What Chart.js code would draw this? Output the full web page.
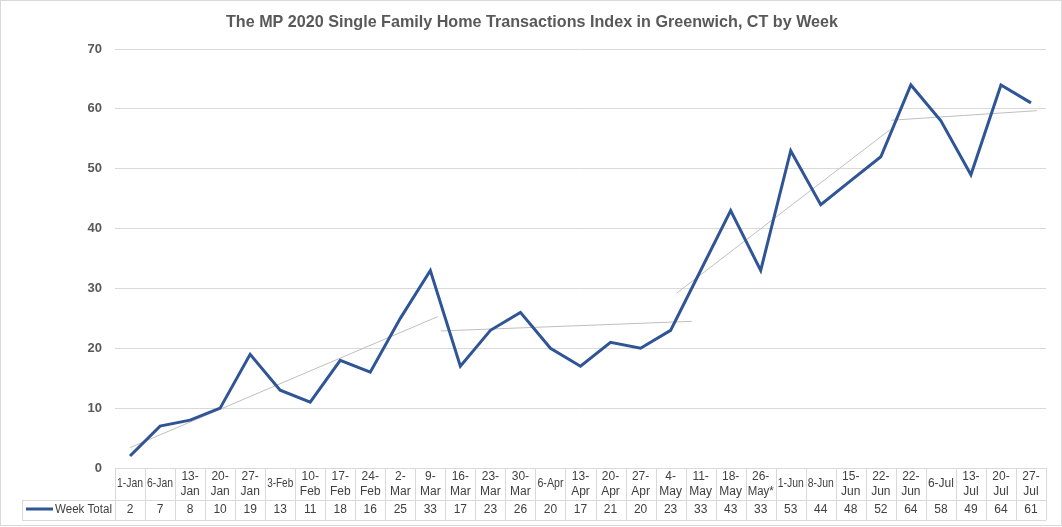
<!DOCTYPE html>
<html>
<head>
<meta charset="utf-8">
<script src="https://cdn.jsdelivr.net/npm/chart.js@4/dist/chart.umd.min.js"></script>
<style>
  html, body { margin: 0; padding: 0; background: #ffffff; }
  #wrap { position: relative; width: 1062px; height: 527px; }
</style>
</head>
<body>
<div id="wrap"><canvas id="weekChart"></canvas></div>
<script>
"use strict";

// Chart data
const chartTitle = "The MP 2020 Single Family Home Transactions Index in Greenwich, CT by Week";
const seriesName = "Week Total";

// header labels of the data table, one entry per line
const weekLabels = [
  ["1-Jan"], ["6-Jan"], ["13-", "Jan"], ["20-", "Jan"], ["27-", "Jan"], ["3-Feb"],
  ["10-", "Feb"], ["17-", "Feb"], ["24-", "Feb"], ["2-", "Mar"], ["9-", "Mar"],
  ["16-", "Mar"], ["23-", "Mar"], ["30-", "Mar"], ["6-Apr"], ["13-", "Apr"],
  ["20-", "Apr"], ["27-", "Apr"], ["4-", "May"], ["11-", "May"], ["18-", "May"],
  ["26-", "May*"], ["1-Jun"], ["8-Jun"], ["15-", "Jun"], ["22-", "Jun"],
  ["22-", "Jun"], ["6-Jul"], ["13-", "Jul"], ["20-", "Jul"], ["27-", "Jul"],
];

const weekTotals = [
  2, 7, 8, 10, 19, 13, 11, 18, 16, 25, 33, 17, 23, 26, 20, 17,
  21, 20, 23, 33, 43, 33, 53, 44, 48, 52, 64, 58, 49, 64, 61,
];

// grey trend segments (x = week index)
const trendSegments = [
  [{ x: 0, y: 3.4 }, { x: 10.25, y: 25.3 }],
  [{ x: 10.35, y: 22.9 }, { x: 18.7, y: 24.5 }],
  [{ x: 18.2, y: 29.2 }, { x: 25.3, y: 56.5 }],
  [{ x: 25.35, y: 58.1 }, { x: 30.2, y: 59.7 }],
];

const yTicks = [0, 10, 20, 30, 40, 50, 60, 70];

// Colors
const colors = {
  line: "#2F5597",
  trend: "#BFBFBF",
  grid: "#D9D9D9",
  text: "#595959",
  tableText: "#404040",
};

const FONT = '"Liberation Sans", Arial, sans-serif';

// Title + outer border
const framePlugin = {
  id: "frame",
  beforeDraw: function (chart) {
    const ctx = chart.ctx;
    ctx.save();
    ctx.fillStyle = "#ffffff";
    ctx.fillRect(0, 0, chart.width, chart.height);
    ctx.strokeStyle = colors.grid;
    ctx.lineWidth = 1;
    ctx.strokeRect(0.5, 0.5, chart.width - 1, chart.height - 2);
    ctx.fillStyle = colors.text;
    ctx.font = "bold 17px " + FONT;
    ctx.textAlign = "center";
    ctx.textBaseline = "middle";
    ctx.fillText(chartTitle, 532, 22, 612);
    ctx.restore();
  },
};

// Data table under the plot
const tablePlugin = {
  id: "dataTable",
  afterDraw: function (chart) {
    const ctx = chart.ctx;
    const area = chart.chartArea;
    const xs = chart.scales.x;
    const top = area.bottom;
    const mid = top + 32;
    const bottom = top + 52;
    const legendLeft = 22;
    const n = weekLabels.length;
    const cellW = (area.right - area.left) / n;
    const fitW = cellW - 4;

    ctx.save();
    ctx.strokeStyle = colors.grid;
    ctx.lineWidth = 1;
    ctx.beginPath();
    ctx.moveTo(area.left, top + 0.5);
    ctx.lineTo(area.right, top + 0.5);
    ctx.moveTo(legendLeft, mid + 0.5);
    ctx.lineTo(area.right, mid + 0.5);
    ctx.moveTo(legendLeft, bottom + 0.5);
    ctx.lineTo(area.right, bottom + 0.5);
    ctx.moveTo(legendLeft + 0.5, mid);
    ctx.lineTo(legendLeft + 0.5, bottom);
    for (let i = 0; i <= n; i++) {
      const x = Math.round(area.left + i * cellW) + 0.5;
      ctx.moveTo(x, top);
      ctx.lineTo(x, bottom);
    }
    ctx.stroke();

    ctx.fillStyle = colors.tableText;
    ctx.font = "12px " + FONT;
    ctx.textAlign = "center";
    ctx.textBaseline = "middle";
    weekLabels.forEach(function (lines, i) {
      const cx = xs.getPixelForValue(i);
      if (lines.length === 1) {
        ctx.fillText(lines[0], cx, top + 16, fitW);
      } else {
        ctx.fillText(lines[0], cx, top + 9, fitW);
        ctx.fillText(lines[1], cx, top + 24, fitW);
      }
      ctx.fillText(String(weekTotals[i]), cx, mid + 10, fitW);
    });

    // legend key
    ctx.strokeStyle = colors.line;
    ctx.lineWidth = 3;
    ctx.beginPath();
    ctx.moveTo(26, mid + 9);
    ctx.lineTo(53, mid + 9);
    ctx.stroke();
    ctx.textAlign = "left";
    ctx.fillText(seriesName, 55, mid + 10, 57);
    ctx.restore();
  },
};

const trendDatasets = trendSegments.map(function (seg) {
  return {
    type: "line",
    data: seg,
    xAxisID: "xt",
    borderColor: colors.trend,
    borderWidth: 1,
    pointRadius: 0,
    fill: false,
    order: 2,
  };
});

const ctx = document.getElementById("weekChart").getContext("2d");

const weekChart = new Chart(ctx, {
  type: "line",
  data: {
    labels: weekLabels.map((l) => l.join("")),
    datasets: [
      {
        label: seriesName,
        data: weekTotals,
        borderColor: colors.line,
        backgroundColor: colors.line,
        borderWidth: 3,
        pointRadius: 0,
        tension: 0,
        fill: false,
        order: 1,
        xAxisID: "x",
      },
    ].concat(trendDatasets),
  },
  options: {
    responsive: true,
    maintainAspectRatio: false,
    animation: false,
    layout: {
      padding: { left: 0, right: 16, top: 49, bottom: 59 },
    },
    plugins: {
      legend: { display: false },
      title: { display: false },
      tooltip: { enabled: false },
    },
    scales: {
      x: {
        type: "category",
        offset: true,
        display: false,
      },
      xt: {
        type: "linear",
        min: -0.5,
        max: 30.5,
        display: false,
      },
      y: {
        min: 0,
        max: 70,
        afterBuildTicks: function (scale) {
          scale.ticks = yTicks.map((v) => ({ value: v }));
        },
        afterFit: function (scale) {
          scale.width = 115;
        },
        grid: {
          color: colors.grid,
          drawTicks: false,
        },
        border: { display: false },
        ticks: {
          color: colors.text,
          padding: 13,
          font: { family: FONT, size: 13, weight: "bold" },
        },
      },
    },
  },
  plugins: [framePlugin, tablePlugin],
});
</script>
</body>
</html>
